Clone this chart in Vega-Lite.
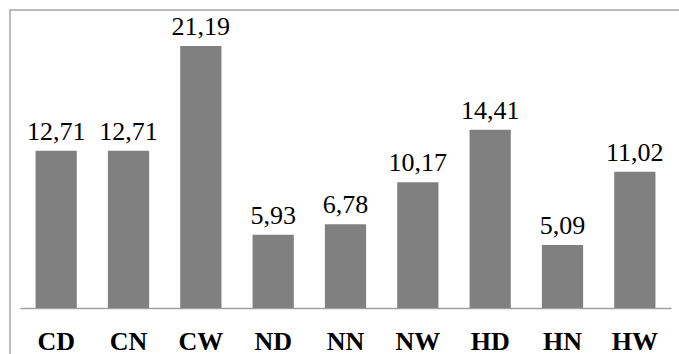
{
  "$schema": "https://vega.github.io/schema/vega-lite/v6.json",
  "width": 679,
  "height": 354,
  "autosize": {"type": "none"},
  "padding": {"left": 10, "top": 10, "right": 0, "bottom": 0},
  "background": "white",
  "data": {
    "values": [
      {"cat": "CD", "value": 12.71},
      {"cat": "CN", "value": 12.71},
      {"cat": "CW", "value": 21.19},
      {"cat": "ND", "value": 5.93},
      {"cat": "NN", "value": 6.78},
      {"cat": "NW", "value": 10.17},
      {"cat": "HD", "value": 14.41},
      {"cat": "HN", "value": 5.09},
      {"cat": "HW", "value": 11.02}
    ]
  },
  "encoding": {
    "x": {
      "field": "cat",
      "type": "nominal",
      "sort": null,
      "scale": {"range": [10, 661], "paddingInner": 0.43, "paddingOuter": 0.215},
      "axis": {
        "title": null,
        "orient": "bottom",
        "offset": -56,
        "ticks": false,
        "domainColor": "#a0a0a0",
        "domainWidth": 1.5,
        "labelAngle": 0,
        "labelFont": "Liberation Serif",
        "labelFontWeight": "bold",
        "labelFontSize": 26,
        "labelColor": "#000000",
        "labelBaseline": "alphabetic",
        "labelPadding": 41
      }
    },
    "y": {
      "field": "value",
      "type": "quantitative",
      "scale": {"domain": [0, 24.1], "range": [298, 0], "nice": false, "zero": true},
      "axis": null
    }
  },
  "layer": [
    {"mark": {"type": "bar", "color": "#808080"}},
    {
      "mark": {
        "type": "text",
        "baseline": "alphabetic",
        "dy": -11,
        "font": "Liberation Serif",
        "fontSize": 26,
        "color": "#000000"
      },
      "encoding": {"text": {"field": "value", "type": "quantitative", "format": ".2f"}}
    }
  ],
  "config": {
    "view": {"stroke": "#a6a6a6", "strokeWidth": 1.5},
    "locale": {"number": {"decimal": ",", "thousands": ".", "grouping": [3], "currency": ["", " €"]}}
  }
}
